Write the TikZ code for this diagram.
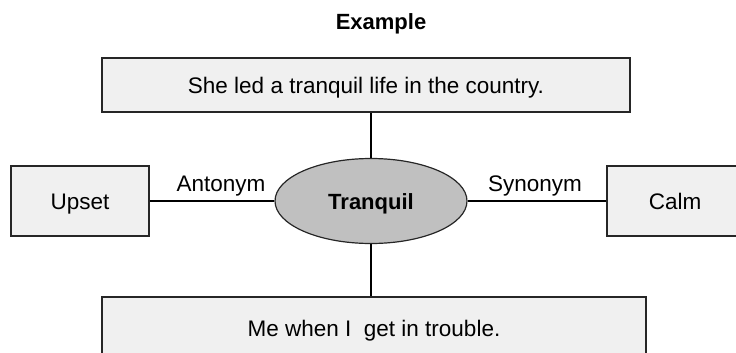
\documentclass[tikz,border=0pt]{standalone}
\usepackage{fontspec}
\setmainfont{Liberation Sans}
\usetikzlibrary{shapes.geometric}
\definecolor{boxfill}{HTML}{F0F0F0}
\definecolor{ellfill}{HTML}{C0C0C0}
\definecolor{edge}{HTML}{262626}
\tikzset{
  capline/.style={text height=16pt, text depth=0pt},
  wordbox/.style={draw=edge, line width=1.5pt, fill=boxfill, inner sep=0pt, capline,
    font=\fontsize{22.5}{26}\selectfont},
  hub/.style={ellipse, draw=edge, line width=1.2pt, fill=ellfill, inner sep=0pt, capline,
    minimum width=192pt, minimum height=85pt, font=\fontsize{22}{26}\selectfont\bfseries},
  link/.style={draw=black, line width=1.3pt},
  tag/.style={font=\fontsize{22.5}{26}\selectfont, inner sep=0pt, capline}
}
\begin{document}
\begin{tikzpicture}[x=1pt, y=-1pt]
  \useasboundingbox (0,0) rectangle (736,353);
  \clip (0,0) rectangle (736,353);

  % heading
  \node[font=\fontsize{22}{26}\selectfont\bfseries, inner sep=0pt, capline] (title) at (381,22) {Example};

  % example sentences
  \node[wordbox, minimum width=528pt, minimum height=54pt] (sent) at (366,85)
    {She led a tranquil life in the country.};
  \node[wordbox, minimum width=544pt, minimum height=62pt] (usage) at (374,328)
    {Me when I\ \ get in trouble.};

  % central word
  \node[hub] (word) at (371,201) {Tranquil};

  % antonym / synonym boxes
  \node[wordbox, minimum width=138pt, minimum height=70pt] (upset) at (80,201) {Upset};
  \node[wordbox, minimum width=136pt, minimum height=70pt] (calm) at (675,201) {Calm};

  % connectors
  \draw[link] (word.north) -- (word.north |- sent.south);
  \draw[link] (word.south) -- (word.south |- usage.north);
  \draw[link] (upset.east) -- (word.west);
  \draw[link] (word.east) -- (calm.west);

  % relation labels
  \node[tag] (ant) at (221,183.5) {Antonym};
  \node[tag] (syn) at (535,183.5) {Synonym};
\end{tikzpicture}
\end{document}
